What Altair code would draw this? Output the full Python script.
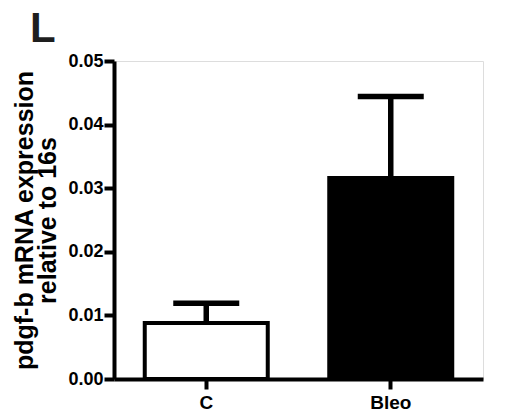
import altair as alt
import pandas as pd

groups = ["C", "Bleo"]
means = [0.0088, 0.0316]
sems = [0.0031, 0.0128]
fills = ["white", "black"]
y_ticks = [0.0, 0.01, 0.02, 0.03, 0.04, 0.05]

df = pd.DataFrame({
    "group": groups,
    "mean": means,
    "upper": [m + s for m, s in zip(means, sems)],
})

FONT = "Liberation Sans, Arial, Helvetica, sans-serif"

x = alt.X("group:N", sort=groups,
          scale=alt.Scale(paddingInner=0, paddingOuter=0),
          axis=alt.Axis(title=None, labelAngle=0, labelFont=FONT, labelFontSize=19,
                        labelFontWeight="bold", labelColor="black", domainColor="black",
                        domainWidth=4, tickColor="black", tickWidth=4, tickSize=10,
                        labelPadding=4))

y_axis = alt.Axis(values=y_ticks, format=".2f", grid=False,
                  title=["pdgf-b mRNA expression", "relative to 16s"],
                  titleFont=FONT, titleFontSize=25, titleFontWeight="bold",
                  titleColor="black", titleLineHeight=23, titlePadding=7,
                  labelFont=FONT, labelFontSize=18, labelFontWeight="bold",
                  labelColor="black", labelPadding=1,
                  domainColor="black", domainWidth=4, tickColor="black",
                  tickWidth=4, tickSize=10)

bars = alt.Chart(df).mark_bar(size=123, stroke="black", strokeWidth=4).encode(
    x=x,
    y=alt.Y("mean:Q", scale=alt.Scale(domain=[0, 0.05], nice=False), axis=y_axis),
    fill=alt.Fill("group:N", sort=groups,
                  scale=alt.Scale(domain=groups, range=fills), legend=None),
)

stems = alt.Chart(df).mark_rule(color="black", strokeWidth=5.5).encode(
    x=alt.X("group:N", sort=groups),
    y=alt.Y("mean:Q"),
    y2="upper:Q",
)

caps = alt.Chart(df).mark_tick(color="black", size=66, thickness=5.5, opacity=1).encode(
    x=alt.X("group:N", sort=groups),
    y=alt.Y("upper:Q"),
)

chart = alt.layer(bars, stems, caps).properties(
    width=369,
    height=318,
    autosize=alt.AutoSizeParams(type="none"),
    padding={"left": 114, "top": 61, "right": 32, "bottom": 37},
    title=alt.TitleParams("L", anchor="start", frame="group", font=FONT,
                          fontSize=42, fontWeight="bold", color="#1e1e1e",
                          dx=-84, dy=17, offset=18),
).configure_view(stroke=None).configure(background="white")

chart.save("out.html", embed_options={"renderer": "svg", "actions": False})
